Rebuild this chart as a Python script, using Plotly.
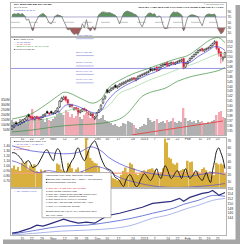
import plotly.graph_objects as go

# ---------------- data ----------------
opens = [135.4, 135.8, 136.6, 136.2, 136.4, 136.7, 136.9, 137.2, 138.3, 137.9,
         137.8, 137.3, 137.9, 137.6, 137.3, 137.8, 138.1, 138.9, 138.6, 138.9,
         138.5, 138.6, 139.0, 139.8, 141.0, 141.4, 141.9, 141.3, 139.9, 140.3,
         139.3, 139.7, 139.5, 138.7, 139.0, 139.5, 139.2, 138.8, 138.2, 138.5,
         137.5, 138.0, 138.8, 139.4, 140.6, 141.6, 143.3, 142.8, 143.2, 143.5,
         144.2, 143.7, 144.0, 144.3, 144.5, 144.7, 145.0, 145.1, 145.3, 145.7,
         145.3, 145.6, 146.0, 146.2, 146.4, 146.5, 146.8, 147.6, 147.2, 147.6,
         147.9, 147.3, 147.8, 148.1, 148.5, 148.8, 148.2, 148.5, 148.8, 148.5,
         148.8, 149.0, 149.1, 149.6, 147.9, 148.6, 149.2, 149.6, 150.0, 150.4,
         150.8, 151.2, 151.6, 151.1, 151.4, 151.6, 151.8, 152.2, 152.7, 153.0,
         151.6, 150.9, 149.5, 149.9]
highs = [136.2, 136.4, 136.8, 136.8, 137.0, 137.4, 137.6, 138.0, 138.5, 138.1,
         138.0, 138.0, 138.1, 137.8, 138.0, 138.4, 138.6, 139.1, 138.8, 139.1,
         138.8, 139.2, 139.8, 141.2, 141.9, 142.1, 142.1, 141.5, 140.5, 140.5,
         139.8, 139.9, 139.7, 139.3, 139.6, 139.7, 139.4, 139.0, 138.7, 138.7,
         138.0, 138.8, 139.4, 140.4, 141.6, 142.2, 143.5, 143.4, 143.8, 144.0,
         144.4, 144.2, 144.6, 144.8, 145.0, 145.2, 145.4, 145.6, 145.8, 145.9,
         145.8, 146.2, 146.4, 146.6, 146.8, 147.0, 147.2, 147.8, 147.6, 147.8,
         148.1, 148.0, 148.4, 148.6, 148.7, 149.0, 148.8, 149.0, 149.0, 149.0,
         149.2, 149.4, 149.6, 149.8, 148.8, 149.2, 149.8, 150.2, 150.6, 151.0,
         151.4, 151.6, 151.8, 151.6, 151.8, 152.0, 152.4, 152.8, 153.3, 153.2,
         151.8, 151.1, 150.1, 151.0]
lows = [135.2, 135.6, 136.2, 136.0, 136.2, 136.5, 136.7, 137.0, 137.7, 137.4,
        137.1, 137.1, 137.4, 137.1, 137.1, 137.6, 137.9, 138.4, 138.2, 138.4,
        138.3, 138.4, 138.8, 139.6, 140.8, 141.2, 140.9, 140.2, 139.7, 139.6,
        139.1, 139.1, 138.3, 138.5, 138.8, 138.9, 138.6, 138.2, 138.0, 137.6,
        137.2, 137.8, 138.6, 139.2, 140.4, 141.3, 142.5, 142.6, 143.0, 143.3,
        143.6, 143.5, 143.8, 144.1, 144.3, 144.5, 144.8, 144.9, 145.1, 145.1,
        145.0, 145.4, 145.8, 146.0, 146.2, 146.3, 146.6, 146.9, 147.0, 147.1,
        146.9, 147.1, 147.6, 147.9, 148.1, 147.9, 148.0, 148.3, 148.3, 148.3,
        148.6, 148.8, 148.9, 147.4, 147.7, 148.4, 149.0, 149.4, 149.8, 150.2,
        150.6, 151.0, 150.9, 150.9, 151.2, 151.4, 151.6, 152.0, 152.4, 151.3,
        150.0, 148.6, 149.0, 149.7]
closes = [136.0, 136.2, 136.4, 136.6, 136.8, 137.2, 137.4, 137.8, 137.9, 137.6,
          137.4, 137.8, 137.6, 137.4, 137.8, 138.2, 138.4, 138.6, 138.4, 138.6,
          138.6, 139.0, 139.6, 141.0, 141.6, 141.8, 141.2, 140.6, 140.2, 140.0,
          139.6, 139.4, 138.8, 139.0, 139.4, 139.2, 139.0, 138.6, 138.4, 138.0,
          137.8, 138.6, 139.2, 140.2, 141.4, 142.0, 142.8, 143.2, 143.6, 143.8,
          143.8, 144.0, 144.4, 144.6, 144.8, 145.0, 145.2, 145.4, 145.6, 145.4,
          145.6, 146.0, 146.2, 146.4, 146.6, 146.8, 147.0, 147.2, 147.4, 147.4,
          147.2, 147.8, 148.2, 148.4, 148.4, 148.2, 148.6, 148.8, 148.6, 148.8,
          149.0, 149.2, 149.4, 147.6, 148.6, 149.0, 149.6, 150.0, 150.4, 150.8,
          151.2, 151.4, 151.2, 151.4, 151.6, 151.8, 152.2, 152.6, 153.0, 151.6,
          150.6, 150.0, 149.8, 150.8]
volume_m = [150, 130, 140, 120, 160, 135, 145, 125, 170, 200,
            260, 150, 180, 190, 140, 160, 130, 170, 150, 140,
            160, 180, 210, 240, 220, 200, 250, 230, 180, 210,
            170, 190, 240, 180, 160, 200, 220, 230, 170, 210,
            190, 180, 160, 170, 200, 150, 140, 130, 120, 100,
            110, 90, 80, 90, 120, 110, 140, 130, 120, 100,
            70, 60, 80, 90, 110, 100, 170, 150, 130, 140,
            160, 120, 130, 140, 120, 150, 130, 140, 170, 130,
            120, 140, 130, 270, 170, 140, 150, 130, 140, 120,
            150, 130, 140, 120, 110, 130, 120, 140, 150, 200,
            230, 240, 180, 170]
oscillator = [78, 82, 80, 84, 79, 83, 75, 58, 62, 40,
              18, 45, 60, 74, 80, 83, 77, 62, 48, 44,
              60, 74, 78, 76, 72, 55, 40, 22, 25, 12,
              5, 8, 4, 20, 45, 30, 60, 25, 18, 35,
              20, 55, 78, 86, 89, 88, 85, 87, 82, 80,
              76, 64, 44, 66, 84, 90, 92, 88, 86, 80,
              78, 70, 45, 33, 52, 75, 84, 85, 80, 82,
              68, 74, 70, 40, 26, 28, 55, 80, 89, 87,
              88, 84, 78, 18, 45, 70, 76, 78, 77, 74,
              70, 52, 37, 62, 78, 81, 80, 79, 81, 55,
              20, 7, 12, 30]
gold_bars = [30, 34, 28, 32, 26, 38, 36, 40, 28, 34,
             32, 36, 26, 24, 28, 25, 27, 20, 22, 24,
             20, 23, 37, 35, 28, 26, 25, 38, 36, 30,
             24, 28, 31, 22, 26, 19, 75, 56, 45, 41,
             38, 37, 33, 22, 20, 23, 18, 16, 19, 15,
             14, 12, 13, 20, 26, 31, 24, 38, 36, 30,
             22, 20, 23, 26, 27, 25, 28, 29, 30, 27,
             22, 21, 24, 30, 74, 68, 46, 44, 37, 35,
             38, 26, 27, 29, 25, 41, 39, 40, 24, 22,
             25, 23, 29, 31, 27, 22, 25, 19, 20, 38,
             36, 37, 35, 22]
ratio_line = [1.26, 1.26, 1.24, 1.20, 1.16, 1.10, 1.04, 1.08, 1.10, 1.04,
              0.96, 0.98, 1.00, 1.06, 1.14, 1.22, 1.30, 1.32, 1.24, 1.16,
              1.10, 1.26, 1.34, 1.30, 1.10, 0.90, 0.84, 0.94, 1.02, 1.10,
              1.16, 1.30, 1.36, 1.26, 1.16, 1.10, 1.18, 1.30, 1.40, 1.46,
              1.50, 1.42, 1.30, 1.16, 1.06, 0.98, 0.94, 0.92, 0.90, 0.84,
              0.76, 0.74, 0.70, 0.62, 0.58, 0.70, 0.78, 0.82, 0.76, 0.66,
              0.58, 0.60, 0.70, 0.78, 0.84, 0.80, 0.74, 0.70, 0.76, 0.86,
              0.94, 0.80, 0.74, 0.86, 1.00, 0.94, 0.82, 0.74, 0.78, 0.86,
              0.90, 0.82, 0.74, 0.86, 0.94, 0.82, 0.74, 0.78, 0.84, 0.90,
              0.80, 0.74, 0.70, 0.78, 0.86, 0.74, 0.66, 0.90, 1.10, 1.30,
              1.36, 1.26, 1.14, 0.94]

bb_upper_idx = [0, 9, 16, 22, 25, 28, 33, 39, 43, 47, 52, 59, 66, 74, 80, 85, 90, 96, 100, 103]
bb_upper = [137.4, 138.4, 140.2, 142.0, 142.8, 142.6, 141.6, 140.6, 141.4, 143.8,
            145.2, 146.6, 147.6, 148.8, 149.6, 150.2, 151.6, 153.4, 153.8, 152.8]
bb_lower_idx = [0, 10, 20, 30, 40, 47, 52, 56, 60, 63, 67, 74, 80, 87, 94, 100, 103]
bb_lower = [134.8, 135.2, 135.8, 136.2, 136.4, 136.8, 137.4, 138.6, 140.6, 142.0,
            142.8, 143.6, 145.0, 146.0, 146.6, 147.2, 147.8]
ma_slow_idx = [0, 10, 20, 30, 40, 47, 52, 59, 66, 74, 80, 87, 94, 100, 103]
ma_slow = [136.2, 136.8, 137.8, 139.4, 138.6, 140.2, 142.6, 143.8, 145.2, 146.4,
           147.4, 148.4, 149.6, 150.6, 150.6]
ma_fast_idx = [0, 5, 10, 15, 20, 23, 26, 30, 35, 40, 43, 46, 50, 55, 60, 65, 70, 75,
               80, 83, 86, 90, 95, 98, 101, 103]
ma_fast = [135.8, 136.6, 137.4, 137.8, 138.4, 139.0, 140.2, 140.2, 139.4, 138.6,
           139.0, 141.0, 142.8, 144.2, 145.2, 146.2, 147.0, 148.0, 148.6, 148.8,
           148.8, 150.0, 151.2, 152.0, 151.8, 151.2]
fib_levels = [153.6, 150.2, 148.1, 146.4, 144.7]
fib_labels = ["0.0% (153.60)", "23.6% (150.20)", "38.2% (148.10)", "50.0% (146.40)", "61.8% (144.70)"]
support_level = 147.6
vol_trend_idx = [58, 102]
vol_trend_m = [0, 140]

ratio_upper_idx = [0, 9, 18, 27, 33, 38, 43, 47, 52, 58, 65, 75, 85, 91, 97, 103]
ratio_upper = [1.40, 1.30, 1.26, 1.24, 1.28, 1.38, 1.30, 1.16, 1.04, 0.94, 0.86, 0.80,
               0.78, 0.82, 0.86, 0.82]
ratio_lower_idx = [0, 4, 12, 18, 27, 35, 40, 45, 51, 60, 70, 80, 90, 100, 103]
ratio_lower = [1.10, 1.04, 0.86, 0.90, 0.82, 0.90, 0.98, 0.94, 0.78, 0.66, 0.58, 0.56,
               0.58, 0.62, 0.64]
ratio_threshold = 0.85

p4_dark_idx = [0, 3, 6, 9, 12, 15, 18, 22, 25, 28, 32, 36, 40, 44, 47, 52, 58, 63, 68, 73,
               77, 81, 83, 86, 89, 92, 95, 97, 99, 100, 102, 103]
p4_dark = [138.0, 138.4, 139.2, 140.0, 141.2, 140.8, 141.6, 142.8, 143.6, 142.8,
           142.0, 142.4, 142.0, 144.0, 145.2, 146.0, 147.2, 148.4, 150.0, 150.4,
           150.8, 152.0, 150.8, 152.4, 153.2, 154.0, 154.4, 155.2, 154.0, 153.2,
           154.0, 154.4]
p4_mid_idx = [0, 12, 24, 36, 47, 58, 68, 78, 83, 90, 97, 103]
p4_mid = [137.6, 139.2, 140.8, 141.2, 142.4, 144.0, 146.0, 148.0, 149.6, 151.2, 153.2, 152.8]
p4_light_idx = [0, 12, 24, 36, 50, 58, 68, 75, 85, 90, 97, 103]
p4_light = [137.2, 138.0, 138.8, 139.2, 140.0, 141.2, 144.0, 145.2, 148.0, 149.2, 151.2, 152.0]

tick_idx = [5, 9.5, 14.5, 20, 25.5, 31, 36, 41.5, 46, 51.5, 58.5, 64, 69, 75.5, 80, 85, 91, 95, 99.5]
tick_text = ["15", "22", "29", "Nov", "12", "19", "26", "Dec", "10", "17", "24", "2013",
             "7", "14", "22", "Feb", "11", "19", "25"]
osc_ticks = [90, 70, 50, 30, 10]
price_ticks = list(range(135, 154))
vol_ticks = [50, 100, 150, 200, 250, 300, 350]
gold_ticks = [10, 20, 30, 40, 50, 60, 70]
ratio_ticks = [1.4, 1.3, 1.2, 1.1, 1.0, 0.9, 0.8, 0.7]
p4_ticks = [144, 146, 148, 150, 152, 154, 156]

# ---------------- geometry helpers ----------------
W, H = 240, 244
def fx(p):
    return p / W
def fy(p):
    return (H - p) / H

N = len(closes)
idx = list(range(N))
XR = [-0.5, N - 0.5]
XD = [fx(11), fx(226)]

FONT = "Liberation Sans, Arial, sans-serif"
RED = "#e0203a"
fig = go.Figure()

# ---- panel 1: oscillator ----
fig.add_trace(go.Scatter(x=idx, y=[70] * N, mode="lines", line=dict(width=0),
                         xaxis="x", yaxis="y", hoverinfo="skip"))
fig.add_trace(go.Scatter(x=idx, y=[max(v, 70) for v in oscillator], mode="lines",
                         line=dict(width=0), fill="tonexty", fillcolor="#5e925e",
                         xaxis="x", yaxis="y", hoverinfo="skip"))
fig.add_trace(go.Scatter(x=idx, y=[30] * N, mode="lines", line=dict(width=0),
                         xaxis="x", yaxis="y", hoverinfo="skip"))
fig.add_trace(go.Scatter(x=idx, y=[min(v, 30) for v in oscillator], mode="lines",
                         line=dict(width=0), fill="tonexty", fillcolor="#a05a5a",
                         xaxis="x", yaxis="y", hoverinfo="skip"))
for lvl, col, dash in [(70, "#8a8ab8", "solid"), (50, "#aaaaaa", "dash"), (30, "#9a9a9a", "solid")]:
    fig.add_trace(go.Scatter(x=XR, y=[lvl, lvl], mode="lines",
                             line=dict(color=col, width=0.7, dash=dash),
                             xaxis="x", yaxis="y", hoverinfo="skip"))
fig.add_trace(go.Scatter(x=idx, y=oscillator, mode="lines",
                         line=dict(color="#7a7a7a", width=0.8),
                         xaxis="x", yaxis="y", hoverinfo="skip"))

# ---- panel 2: volume (base axis y2) ----
vol_colors = ["#b0b0b0"] + ["#f2a9b4" if closes[i] < closes[i - 1] else "#b0b0b0"
                            for i in range(1, N)]
fig.add_trace(go.Bar(x=idx, y=volume_m, marker=dict(color=vol_colors, line=dict(width=0)),
                     width=0.72, xaxis="x2", yaxis="y2", hoverinfo="skip"))
fig.add_trace(go.Scatter(x=vol_trend_idx, y=vol_trend_m, mode="lines",
                         line=dict(color="#e05050", width=1),
                         xaxis="x2", yaxis="y2", hoverinfo="skip"))

# ---- panel 2: price (overlay axis y5) ----
fig.add_trace(go.Scatter(x=XR, y=[support_level] * 2, mode="lines",
                         line=dict(color="#7a7ae0", width=0.8),
                         xaxis="x2", yaxis="y5", hoverinfo="skip"))
for lvl in fib_levels:
    fig.add_trace(go.Scatter(x=[31, 39.5], y=[lvl, lvl], mode="lines",
                             line=dict(color="#6a74d0", width=0.5),
                             xaxis="x2", yaxis="y5", hoverinfo="skip"))
fig.add_trace(go.Scatter(x=bb_upper_idx, y=bb_upper, mode="lines", line_shape="spline",
                         line=dict(color="#3f8f3f", width=0.7), xaxis="x2", yaxis="y5",
                         hoverinfo="skip"))
fig.add_trace(go.Scatter(x=bb_lower_idx, y=bb_lower, mode="lines", line_shape="spline",
                         line=dict(color="#3f8f3f", width=0.7), xaxis="x2", yaxis="y5",
                         hoverinfo="skip"))
fig.add_trace(go.Scatter(x=ma_slow_idx, y=ma_slow, mode="lines", line_shape="spline",
                         line=dict(color="#9fd49f", width=0.7), xaxis="x2", yaxis="y5",
                         hoverinfo="skip"))
fig.add_trace(go.Scatter(x=ma_fast_idx, y=ma_fast, mode="lines", line_shape="spline",
                         line=dict(color="#4a4ad8", width=0.7), xaxis="x2", yaxis="y5",
                         hoverinfo="skip"))

kind = []
for i in range(N):
    if closes[i] >= opens[i]:
        kind.append("hollow")
    elif i > 0 and closes[i] < closes[i - 1]:
        kind.append("red")
    else:
        kind.append("black")

for grp, col in [(("hollow", "black"), "#000000"), (("red",), RED)]:
    wx, wy = [], []
    for i in range(N):
        if kind[i] in grp:
            lo_b, hi_b = min(opens[i], closes[i]), max(opens[i], closes[i])
            wx += [i, i, None, i, i, None]
            wy += [lows[i], lo_b, None, hi_b, highs[i], None]
    fig.add_trace(go.Scatter(x=wx, y=wy, mode="lines", line=dict(color=col, width=0.6),
                             xaxis="x2", yaxis="y5", hoverinfo="skip"))

for k, fill, edge in [("hollow", "#ffffff", "#000000"), ("red", RED, RED), ("black", "#000000", "#000000")]:
    sel = [i for i in range(N) if kind[i] == k]
    fig.add_trace(go.Bar(
        x=sel,
        base=[min(opens[i], closes[i]) for i in sel],
        y=[max(abs(closes[i] - opens[i]), 0.1) for i in sel],
        width=0.78,
        marker=dict(color=fill, line=dict(color=edge, width=0.5)),
        xaxis="x2", yaxis="y5", hoverinfo="skip"))

# ---- panel 3: gold bars (base y3) + ratio lines (overlay y6) ----
fig.add_trace(go.Bar(x=idx, y=gold_bars, width=0.8,
                     marker=dict(color="#d9b03e", line=dict(width=0)),
                     xaxis="x3", yaxis="y3", hoverinfo="skip"))
fig.add_trace(go.Scatter(x=XR, y=[ratio_threshold] * 2, mode="lines",
                         line=dict(color="#f4a07a", width=1.4),
                         xaxis="x3", yaxis="y6", hoverinfo="skip"))
fig.add_trace(go.Scatter(x=ratio_upper_idx, y=ratio_upper, mode="lines", line_shape="spline",
                         line=dict(color="#5a5ad6", width=0.8), xaxis="x3", yaxis="y6",
                         hoverinfo="skip"))
fig.add_trace(go.Scatter(x=ratio_lower_idx, y=ratio_lower, mode="lines", line_shape="spline",
                         line=dict(color="#6a5ac8", width=0.8), xaxis="x3", yaxis="y6",
                         hoverinfo="skip"))
fig.add_trace(go.Scatter(x=idx, y=ratio_line, mode="lines", line_shape="spline",
                         line=dict(color="#1e1e1e", width=1.0), xaxis="x3", yaxis="y6",
                         hoverinfo="skip"))

# ---- panel 4 ----
fig.add_trace(go.Scatter(x=p4_light_idx, y=p4_light, mode="lines", line_shape="spline",
                         line=dict(color="#a3aeea", width=0.9), xaxis="x4", yaxis="y4",
                         hoverinfo="skip"))
fig.add_trace(go.Scatter(x=p4_mid_idx, y=p4_mid, mode="lines", line_shape="spline",
                         line=dict(color="#6070d0", width=0.9), xaxis="x4", yaxis="y4",
                         hoverinfo="skip"))
fig.add_trace(go.Scatter(x=p4_dark_idx, y=p4_dark, mode="lines",
                         line=dict(color="#2e2e7e", width=1.2), xaxis="x4", yaxis="y4",
                         hoverinfo="skip"))

# ---------------- layout ----------------
LC = "#b4b4b4"
TF = dict(size=3.4, color="#333333", family=FONT)

def xax(anchor, labels):
    d = dict(domain=XD, range=XR, anchor=anchor, showgrid=False, zeroline=False,
             showline=True, mirror=True, linecolor=LC, linewidth=0.6, ticks="",
             fixedrange=True, rangeslider=dict(visible=False))
    if labels:
        d.update(tickmode="array", tickvals=tick_idx, ticktext=tick_text, tickfont=TF,
                 showticklabels=True)
    else:
        d.update(showticklabels=False)
    return d

def yax(dom, rng, side, vals, texts=None, anchor="x", overlay=None):
    d = dict(range=rng, side=side, anchor=anchor, showgrid=False, zeroline=False,
             ticks="", tickmode="array", tickvals=vals, tickfont=TF, fixedrange=True)
    if texts is not None:
        d["ticktext"] = texts
    if overlay:
        d["overlaying"] = overlay
        d["showline"] = False
    else:
        d["domain"] = dom
        d["showline"] = True
        d["mirror"] = True
        d["linecolor"] = LC
        d["linewidth"] = 0.6
    return d

D1 = [fy(35), fy(1)]
D2 = [fy(134), fy(35)]
D3 = [fy(188), fy(137)]
D4 = [fy(235), fy(188)]

fig.update_layout(
    width=W, height=H, margin=dict(l=0, r=0, t=0, b=0),
    paper_bgcolor="white", plot_bgcolor="white", showlegend=False,
    barmode="overlay", font=dict(family=FONT, size=3.4, color="#333333"),
    xaxis=xax("y", False), xaxis2=xax("y2", True), xaxis3=xax("y3", False),
    xaxis4=xax("y4", True),
    yaxis=yax(D1, [-3.7, 122.2], "right", osc_ticks, anchor="x"),
    yaxis2=yax(D2, [0, 990], "left", vol_ticks, [f"{v}M" for v in vol_ticks], anchor="x2"),
    yaxis5=yax(None, [134.2, 154.0], "right", price_ticks, anchor="x2", overlay="y2"),
    yaxis3=yax(D3, [0, 75], "right", gold_ticks, anchor="x3"),
    yaxis6=yax(None, [0.54, 1.56], "left", ratio_ticks, [f"{v:.2f}" for v in ratio_ticks],
               anchor="x3", overlay="y3"),
    yaxis4=yax(D4, [137.2, 156.0], "right", p4_ticks, anchor="x4"),
)

# ---------------- annotations ----------------
anns = []
def txt(x, y, s, size=2.4, color="#222222", xanchor="left", bold=False):
    anns.append(dict(x=fx(x), y=fy(y), xref="paper", yref="paper", text=(f"<b>{s}</b>" if bold else s),
                     showarrow=False, xanchor=xanchor, yanchor="middle",
                     font=dict(size=size, color=color, family=FONT)))

txt(11.5, 2.3, "SPY SPDR S&P 500 ETF (NYSE)", 2.5, "#000000", bold=True)
txt(11.5, 5.3, "25-Feb-2013", 2.3, "#555555")
txt(11.5, 8.3, "Full STO(14,3) 11.74", 2.3, "#3344aa")
txt(225.5, 2.2, "© StockCharts.com", 2.3, "#666666", "right")
txt(225.5, 5.3, "Open 151.4 High 151.5 Low 149.0 Close 149.0 Volume 245M Chg -2.4 (-1.6%)",
    2.4, "#111111", "right", bold=True)

leg2 = [("■ SPY (Daily) 149.00", "#111111"),
        ("— MA(10) 150.57", "#3a3ad0"),
        ("— MA(50) 146.58", "#dd3333"),
        ("— BB(20,2.0) 153.41, 150.33, 147.25", "#2f8a2f"),
        ("■ Volume 245,820,384", "#333333")]
for k, (s, c) in enumerate(leg2):
    txt(11.5, 37.2 + 2.7 * k, s, 2.1, c)

for lvl, lab in zip(fib_levels, fib_labels):
    anns.append(dict(x=35.2, y=lvl, xref="x2", yref="y5", text=lab, showarrow=False,
                     xanchor="center", yanchor="bottom", yshift=-0.5,
                     font=dict(size=2.4, color="#4a58c8", family=FONT)))

leg3 = [("■ $CPC Put/Call Ratio (Daily) 1.10", "#111111"),
        ("— MA(10) 0.86  — MA(20) 0.64", "#3a3ad0"),
        ("— Threshold 0.85", "#e08040"),
        ("■ Volume 24.1M", "#d04050")]
for k, (s, c) in enumerate(leg3):
    txt(11.5, 140.0 + 2.7 * k, s, 2.1, c)
txt(11.5, 190.2, "— SPY (Weekly) 149.00", 2.1, "#3a3ad0")

# text box
box_lines = [
    (174.5, "Intermediate-term: down, short-term: oversold", "#222222"),
    (178.0, "■ Bullish large engulfing (SPY + $NDX) - not confirmed", "#222222"),
    (181.0, "■ Limited downside expected", "#222222"),
    (187.6, "1. Daily SPY, NYSE TICK: still oversold", "#cc2222"),
    (190.6, "2. Daily CPCE: extremely high", "#222222"),
    (193.6, "3. Daily SPY closed at the lower BB, bounce likely", "#222222"),
    (196.6, "4. Daily SPY hammer, hollow red candle", "#222222"),
    (199.6, "5. Daily $CPC 10 MA over 1.0, oversold", "#222222"),
    (202.6, "6. Daily SPY 1st lower BB, bounce rate > 80%", "#222222"),
    (205.6, "7. Daily VIX reversal bar: bearish", "#222222"),
    (211.6, "Bearish setup: SPY 50 MA up 4 consecutive days,", "#222222"),
    (214.6, "SPY 5 MA down.", "#222222"),
]
for yy, s, c in box_lines:
    txt(44.0, yy, s, 2.3, c)

fig.update_layout(annotations=anns)

shapes = [
    dict(type="rect", xref="paper", yref="paper", x0=fx(42), x1=fx(111), y0=fy(217.5), y1=fy(172),
         fillcolor="white", line=dict(color="#8c8c8c", width=0.6), layer="above"),
    dict(type="rect", xref="paper", yref="paper", x0=fx(235.5), x1=fx(240), y0=fy(244), y1=fy(3),
         fillcolor="#a6a6a6", line=dict(width=0), layer="above"),
    dict(type="rect", xref="paper", yref="paper", x0=fx(3), x1=fx(240), y0=fy(244), y1=fy(239.5),
         fillcolor="#a6a6a6", line=dict(width=0), layer="above"),
]
fig.update_layout(shapes=shapes)

fig.write_html("out.html")
